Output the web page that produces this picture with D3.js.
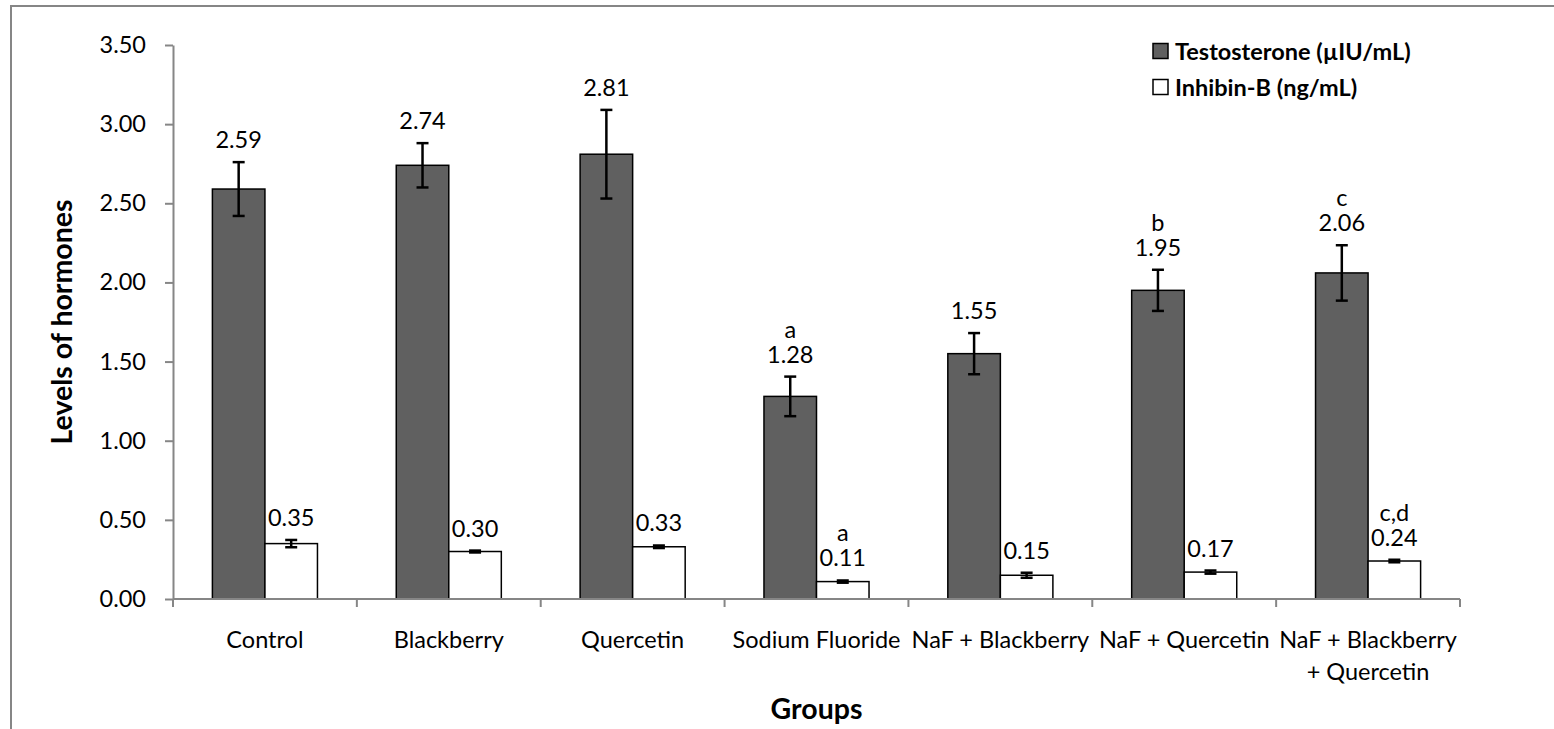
<!DOCTYPE html>
<html>
<head>
<meta charset="utf-8">
<script src="https://cdn.jsdelivr.net/npm/d3@7"></script>
<style>
  html, body { margin: 0; padding: 0; background: #fff; }
  svg { display: block; }
  text { font-family: Lato, "Open Sans", sans-serif; fill: #000; }
</style>
</head>
<body>
<svg id="chart" width="1554" height="729"></svg>
<script>
// ---- data ----
const categories = ["Control", "Blackberry", "Quercetin", "Sodium Fluoride", "NaF + Blackberry", "NaF + Quercetin", "NaF + Blackberry + Quercetin"];
const categoryLines = [["Control"], ["Blackberry"], ["Quercetin"], ["Sodium Fluoride"], ["NaF + Blackberry"], ["NaF + Quercetin"], ["NaF + Blackberry", "+ Quercetin"]];
const seriesNames = ["Testosterone (µIU/mL)", "Inhibin-B (ng/mL)"];
const testosterone = [2.59, 2.74, 2.81, 1.28, 1.55, 1.95, 2.06];
const testosteroneErr = [0.17, 0.14, 0.28, 0.125, 0.13, 0.13, 0.175];
const inhibin = [0.35, 0.30, 0.33, 0.11, 0.15, 0.17, 0.24];
const inhibinErr = [0.023, 0.006, 0.008, 0.007, 0.016, 0.01, 0.008];
const testosteroneLetters = ["", "", "", "a", "", "b", "c"];
const inhibinLetters = ["", "", "", "a", "", "", "c,d"];
const yTicks = [0, 0.5, 1, 1.5, 2, 2.5, 3, 3.5];

// ---- layout ----
const svg = d3.select("#chart");
const plotLeft = 173, plotRight = 1460, plotTop = 45, plotBottom = 599;
const axisColor = "#868686";
const darkFill = "#606060";

// outer chart frame (extends past the right/bottom of the view)
svg.append("rect").attr("x", 11).attr("y", 6).attr("width", 1600).attr("height", 800)
  .attr("fill", "none").attr("stroke", axisColor).attr("stroke-width", 2);

const x = d3.scaleBand().domain(categories).range([plotLeft, plotRight]).paddingInner(0).paddingOuter(0);
const inner = d3.scaleBand().domain(["t", "i"]).range([0, x.bandwidth()]).paddingInner(0).paddingOuter(0.75);
const y = d3.scaleLinear().domain([0, 3.5]).range([plotBottom, plotTop]);

// y axis
const yAxis = svg.append("g").attr("transform", `translate(${plotLeft},0)`)
  .call(d3.axisLeft(y).tickValues(yTicks).tickFormat(d3.format(".2f")).tickSize(8).tickSizeOuter(0).tickPadding(19));
yAxis.selectAll("path, line").attr("stroke", axisColor).attr("stroke-width", 2);
yAxis.selectAll("text").style("font-family", "Lato, sans-serif").style("font-size", "23.5px").attr("fill", "#000");

// data rows
const rows = categories.map((c, i) => ({
  c, i,
  t: testosterone[i], te: testosteroneErr[i], tl: testosteroneLetters[i],
  h: inhibin[i], he: inhibinErr[i], hl: inhibinLetters[i]
}));

// bars
const g = svg.append("g");
const series = [
  { key: "t", val: d => d.t, err: d => d.te, let: d => d.tl, fill: darkFill },
  { key: "i", val: d => d.h, err: d => d.he, let: d => d.hl, fill: "#ffffff" }
];

series.forEach(s => {
  const bx = d => x(d.c) + inner(s.key);
  g.selectAll(null).data(rows).enter().append("rect")
    .attr("x", bx).attr("width", inner.bandwidth())
    .attr("y", d => y(s.val(d))).attr("height", d => y(0) - y(s.val(d)))
    .attr("fill", s.fill).attr("stroke", "#000").attr("stroke-width", 1.5);
});

// x axis (drawn above bars)
const xg = svg.append("g");
xg.append("line").attr("x1", plotLeft).attr("x2", plotRight).attr("y1", y(0)).attr("y2", y(0))
  .attr("stroke", axisColor).attr("stroke-width", 2);
const bounds = categories.map(c => x(c)).concat([x(categories[categories.length - 1]) + x.bandwidth()]);
xg.selectAll(null).data(bounds).enter().append("line")
  .attr("x1", d => d).attr("x2", d => d).attr("y1", y(0)).attr("y2", y(0) + 8)
  .attr("stroke", axisColor).attr("stroke-width", 2);
const xl = xg.selectAll(null).data(rows).enter().append("text")
  .attr("text-anchor", "middle").style("font-size", "23.5px")
  .attr("x", d => x(d.c) + x.bandwidth() / 2).attr("y", y(0) + 49);
xl.selectAll("tspan").data(d => categoryLines[d.i].map(l => ({ l, x: x(d.c) + x.bandwidth() / 2 })))
  .enter().append("tspan").attr("x", d => d.x).attr("dy", (d, k) => k === 0 ? 0 : 32).text(d => d.l);

// error bars and labels
series.forEach(s => {
  const cx = d => x(d.c) + inner(s.key) + inner.bandwidth() / 2;
  const eg = g.selectAll(null).data(rows).enter().append("g");
  eg.append("line").attr("x1", cx).attr("x2", cx)
    .attr("y1", d => y(s.val(d) + s.err(d))).attr("y2", d => y(s.val(d) - s.err(d)))
    .attr("stroke", "#000").attr("stroke-width", 2.5);
  [1, -1].forEach(sign => {
    eg.append("line").attr("x1", d => cx(d) - 6).attr("x2", d => cx(d) + 6)
      .attr("y1", d => y(s.val(d) + sign * s.err(d))).attr("y2", d => y(s.val(d) + sign * s.err(d)))
      .attr("stroke", "#000").attr("stroke-width", 2.5);
  });
  // value labels
  g.selectAll(null).data(rows).enter().append("text")
    .attr("text-anchor", "middle").style("font-size", "23.5px")
    .attr("x", cx).attr("y", d => y(s.val(d) + s.err(d)) - 14)
    .text(d => d3.format(".2f")(s.val(d)));
  // significance letters above the value labels
  g.selectAll(null).data(rows.filter(d => s.let(d))).enter().append("text")
    .attr("text-anchor", "middle").style("font-size", "23.5px")
    .attr("x", cx).attr("y", d => y(s.val(d) + s.err(d)) - 14 - 25)
    .text(d => s.let(d));
});

// axis titles
svg.append("text").attr("transform", `translate(72,${(plotTop + plotBottom) / 2}) rotate(-90)`)
  .attr("text-anchor", "middle").style("font-size", "28.5px").style("font-weight", "bold")
  .text("Levels of hormones");
svg.append("text").attr("x", (plotLeft + plotRight) / 2).attr("y", 719)
  .attr("text-anchor", "middle").style("font-size", "28.5px").style("font-weight", "bold")
  .text("Groups");

// legend
const legend = svg.append("g");
const fills = [darkFill, "#ffffff"];
seriesNames.forEach((n, k) => {
  const ly = 51 + k * 36;
  legend.append("rect").attr("x", 1153).attr("y", ly - 7.5).attr("width", 15).attr("height", 15)
    .attr("fill", fills[k]).attr("stroke", "#000").attr("stroke-width", 1.5);
  legend.append("text").attr("x", 1175).attr("y", ly + 8.5)
    .style("font-size", "23.5px").style("font-weight", "bold").text(n);
});
</script>
</body>
</html>
